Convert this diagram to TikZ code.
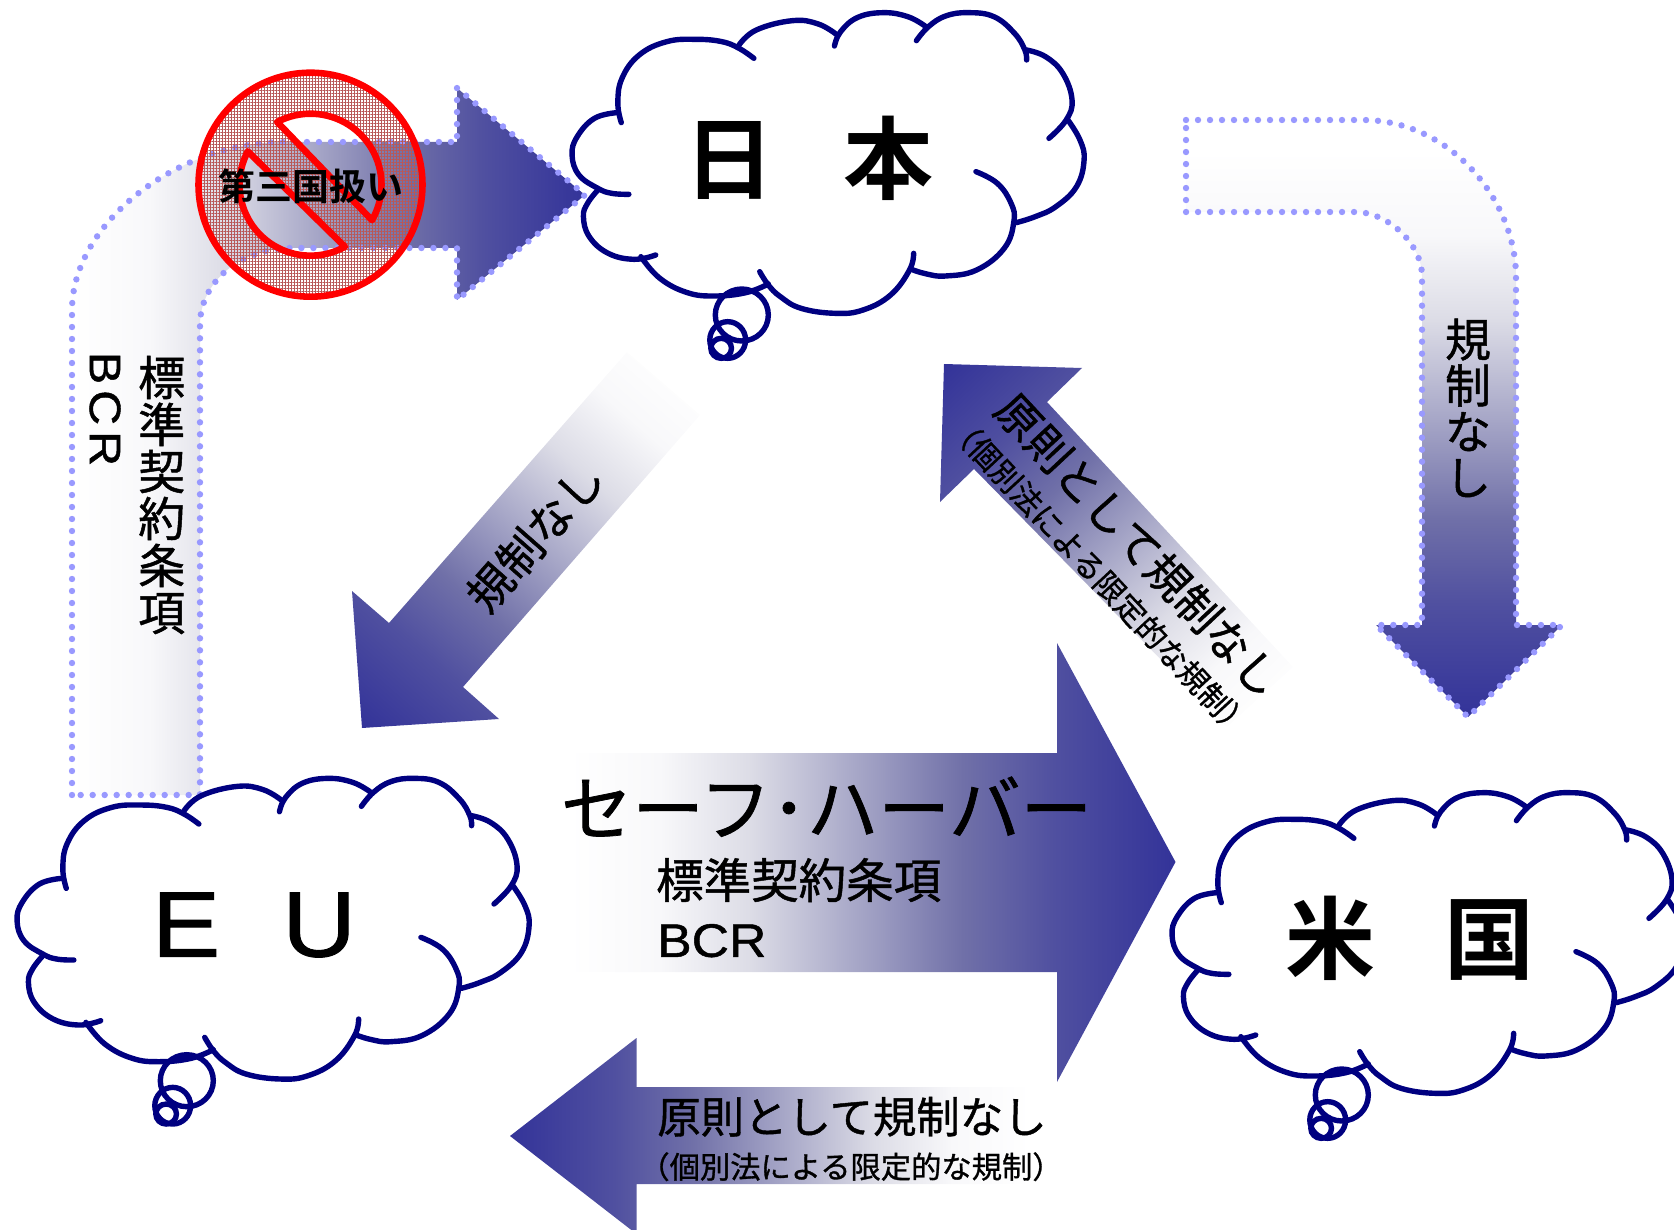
\documentclass[tikz,border=0pt]{standalone}
\usepackage{graphicx}
\usepackage{fontspec}
\setmainfont[FakeBold=1.0]{Liberation Sans}
\newfontfamily\jp[BoldFont={Noto Sans CJK JP Bold}]{Noto Sans CJK JP}
\newfontfamily\jpm[FakeBold=1.0]{Noto Sans CJK JP}
\usetikzlibrary{patterns.meta}
\definecolor{arrownavy}{HTML}{333399}
\definecolor{cloudnavy}{HTML}{000080}
\definecolor{dotblue}{HTML}{9999FF}
\definecolor{ringred}{HTML}{FF0000}
\definecolor{meshred}{HTML}{B85858}
\definecolor{gA}{HTML}{F8F8FA}
\definecolor{gB}{HTML}{DCDCE6}
\definecolor{gC}{HTML}{A8A8C8}
\definecolor{gD}{HTML}{7070A8}
\definecolor{gE}{HTML}{5050A0}
\pgfdeclareverticalshading{fadegrad}{100bp}{color(0bp)=(white);color(37.5bp)=(white);color(41.25bp)=(gA);color(45bp)=(gB);color(49.25bp)=(gC);color(53.75bp)=(gD);color(57.5bp)=(gE);color(62.5bp)=(arrownavy);color(100bp)=(arrownavy)}
\newcommand\gradfill[5]{% path, cx, cy, L, angle
  \begin{scope}\clip #1;
  \shade[shading=fadegrad,shading angle=#5] ({#2-#4},{#3-#4}) rectangle ({#2+#4},{#3+#4});
  \end{scope}}
\newcommand\mycloud[2]{%
  \begin{scope}[shift={(#1,#2)},xscale=0.34435,yscale=0.33333,cloudline]
  \draw plot[smooth,tension=.7] coordinates {(178,368)(168,310)(180,235)(230,165)(310,125)(395,118)(470,125)(520,145)(563,175)};
  \draw plot[smooth,tension=.7] coordinates {(520,135)(570,90)(675,62)(750,72)(805,105)};
  \draw plot[smooth,tension=.7] coordinates {(797,138)(815,95)(865,52)(940,38)(1010,50)(1060,78)};
  \draw plot[smooth,tension=.7] coordinates {(1035,122)(1070,80)(1120,48)(1185,38)(1260,50)(1320,100)(1350,150)(1355,180)};
  \draw plot[smooth,tension=.7] coordinates {(1355,150)(1410,170)(1460,220)(1487,300)(1470,360)(1420,415)};
  \draw plot[smooth,tension=.7] coordinates {(1475,360)(1510,420)(1522,480)(1500,560)(1440,620)(1380,650)(1325,668)};
  \draw plot[smooth,tension=.7] coordinates {(1208,515)(1270,550)(1310,610)(1318,665)(1290,745)(1210,810)(1120,828)(1065,822)(1020,808)};
  \draw plot[smooth,tension=.7] coordinates {(1027,760)(1015,810)(960,885)(880,930)(800,940)(700,925)(640,890)(605,855)(580,815)};
  \draw plot[smooth,tension=.7] coordinates {(605,852)(540,878)(450,888)(370,878)(290,835)(235,770)};
  \draw plot[smooth,tension=.7] coordinates {(278,765)(215,778)(140,760)(85,710)(68,650)(80,610)(110,570)};
  \draw plot[smooth,tension=.7] coordinates {(200,583)(150,580)(110,565)(55,525)(35,465)(50,410)(100,355)(165,338)};
  \draw (528,945) ellipse [x radius=77,y radius=78];
  \draw (487,1020) ellipse [x radius=52,y radius=55];
  \draw (468,1045) ellipse [x radius=30,y radius=30];
  \end{scope}}
\tikzset{
  cloudline/.style={draw=cloudnavy,line width=5.4pt,line cap=round},
  dotline/.style={draw=dotblue,line width=6.4pt,line cap=round,dash pattern=on 0pt off 12pt},
  txt/.style={inner sep=0pt,align=center,text=black},
}
\begin{document}
\begin{tikzpicture}[x=1pt,y=-1pt]
\useasboundingbox (0,0) rectangle (1674,1230);
% left bent arrow
\def\pathA{(72,795) -- (72,310) .. controls (72,225) and (175,142) .. (285,142) -- (457,142) -- (457,88) -- (585,195) -- (457,300) -- (457,248) -- (293,248) .. controls (240,248) and (200,282) .. (200,325) -- (200,795) -- cycle}
\gradfill{\pathA}{328.5}{450}{513}{-90}
\draw[dotline] \pathA;
% right bent arrow
\def\pathB{(1186,120) -- (1363,120) .. controls (1450,120) and (1516,200) .. (1516,277) -- (1516,625) -- (1562,625) -- (1468,717) -- (1376,625) -- (1422,625) -- (1422,276) .. controls (1422,245) and (1390,214) .. (1358,212) -- (1186,212) -- cycle}
\gradfill{\pathB}{1400}{433.5}{567}{180}
\draw[dotline] \pathB;
% diagonal Japan to EU
\gradfill{(627,352) -- (700,415) -- (463,687) -- (499,719) -- (362,728) -- (352,591) -- (389,623) -- cycle}{521}{546.5}{482}{138.8}
% diagonal US to Japan
\gradfill{(944,364) -- (1082,368) -- (1047,402) -- (1293,667) -- (1227,727) -- (974,469) -- (940,502) -- cycle}{1109.5}{538}{480}{43.6}
% centre arrow
\gradfill{(569,753) -- (1057,753) -- (1057,643) -- (1175.5,862) -- (1057,1082) -- (1057,972) -- (569,972) -- cycle}{872}{862}{606}{-90}
% bottom arrow
\gradfill{(1105,1087) -- (636.5,1087) -- (636.5,1038) -- (510,1136) -- (636.5,1234) -- (636.5,1184) -- (1105,1184) -- cycle}{770}{1136}{520}{90}
% prohibition sign
\def\ringpath{(310.5,184.7) circle [radius=112]
  plot[domain=118:-30,samples=40] ({310.5+71*cos(\x)},{184.7-71*sin(\x)}) -- cycle
  plot[domain=152:299,samples=40] ({310.5+71*cos(\x)},{184.7-71*sin(\x)}) -- cycle}
\path[even odd rule,pattern={Lines[angle=0,distance=3pt,line width=0.9pt]},pattern color=meshred] \ringpath;
\path[even odd rule,pattern={Lines[angle=90,distance=3pt,line width=0.9pt]},pattern color=meshred] \ringpath;
\draw[draw=ringred,line width=6.6pt,line join=round] \ringpath;
\node[txt,font=\jp\bfseries\fontsize{37}{37}\selectfont] (third) at (310.5,186) {第三国扱い};
% clouds
\mycloud{560}{0}
\mycloud{5}{765.7}
\mycloud{1160}{780}
\node[txt,font=\jp\bfseries\fontsize{90}{90}\selectfont] (japan) at (809,158) {日\hspace{70pt}本};
\node[txt,font=\fontsize{93}{93}\selectfont] (eu) at (254,925) {\scalebox{1.1}[1]{E}\hspace{62pt}\scalebox{1.1}[1]{U}};
\node[txt,font=\jp\bfseries\fontsize{90}{90}\selectfont] (usa) at (1410,938) {米\hspace{70pt}国};
% labels
\node[txt,font=\jpm\fontsize{71.5}{71.5}\selectfont] (sh) at (826.5,806.7) {セーフ･ハーバー};
\node[txt,font=\jpm\fontsize{47.5}{47.5}\selectfont,anchor=west] (scc) at (656,880) {標準契約条項};
\node[txt,font=\fontsize{47}{47}\selectfont,anchor=west] (bcr) at (657,940.7) {\scalebox{1.1}[1]{BCR}};
\node[txt,font=\jpm\fontsize{43.4}{43.4}\selectfont] (bottom1) at (852,1116.7) {原則として規制なし};
\node[txt,font=\jpm\fontsize{30.3}{30.3}\selectfont] (bottom2) at (851,1166.7) {（個別法による限定的な規制）};
\node[txt,font=\jpm\fontsize{44}{44}\selectfont,rotate=-47] (diag1) at (1138.7,545) {原則として規制なし};
\node[txt,font=\jpm\fontsize{30.6}{30.6}\selectfont,rotate=-47] (diag2) at (1100,576.7) {（個別法による限定的な規制）};
\node[txt,font=\jpm\fontsize{45}{45}\selectfont,rotate=48.7] (diag3) at (535,536.7) {規制なし};
\node[txt,font=\jpm\fontsize{46}{46}\selectfont] (right) at (1468,408) {規\\制\\な\\し};
\node[txt,font=\jpm\fontsize{47}{47}\selectfont] (leftscc) at (161.7,495) {標\\準\\契\\約\\条\\項};
\node[txt,font=\fontsize{44}{44}\selectfont,rotate=-90] (leftbcr) at (105,409) {\scalebox{1.1}[1]{B}\hspace{6pt}\scalebox{1.1}[1]{C}\hspace{6pt}\scalebox{1.1}[1]{R}};
\end{tikzpicture}
\end{document}
